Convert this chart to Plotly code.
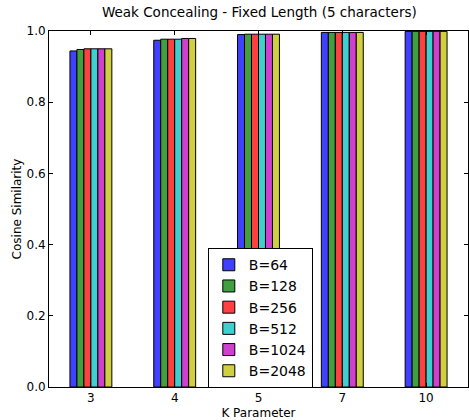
import plotly.graph_objects as go

k_labels = ["3", "4", "5", "7", "10"]
series_names = ["B=64", "B=128", "B=256", "B=512", "B=1024", "B=2048"]
values = {
    "B=64":   [0.944, 0.974, 0.990, 0.996, 0.999],
    "B=128":  [0.948, 0.977, 0.991, 0.996, 0.999],
    "B=256":  [0.950, 0.977, 0.991, 0.996, 0.999],
    "B=512":  [0.950, 0.977, 0.991, 0.996, 0.999],
    "B=1024": [0.950, 0.979, 0.991, 0.996, 0.999],
    "B=2048": [0.950, 0.979, 0.991, 0.996, 0.999],
}
colors = ["rgb(64,64,255)", "rgb(64,160,64)", "rgb(255,64,64)",
          "rgb(64,207,207)", "rgb(207,64,207)", "rgb(207,207,64)"]
y_ticks = [0.0, 0.2, 0.4, 0.6, 0.8, 1.0]

fig = go.Figure()
for name, c in zip(series_names, colors):
    fig.add_trace(go.Bar(x=k_labels, y=values[name], name=name,
                         marker=dict(color=c, line=dict(color="black", width=1))))

font = "DejaVu Sans"
fig.update_layout(
    width=469, height=420,
    margin=dict(l=49, r=1, t=31, b=33),
    paper_bgcolor="white", plot_bgcolor="white",
    barmode="group", bargap=0.5, bargroupgap=0,
    font=dict(family=font, size=12, color="black"),
    title=dict(text="Weak Concealing - Fixed Length (5 characters)",
               x=0.553, xanchor="center", y=0.982, yanchor="top",
               font=dict(size=13.5, family=font)),
    legend=dict(x=0.379, y=0.39, xanchor="left", yanchor="top",
                bordercolor="black", borderwidth=1, bgcolor="white",
                font=dict(size=14, family=font), tracegroupgap=0,
                itemwidth=30),
    showlegend=True,
)
fig.update_xaxes(type="category", range=[-0.5, 4.5], showline=True, linecolor="black",
                 linewidth=1, mirror="ticks", ticks="inside", ticklen=4,
                 tickcolor="black", showgrid=False,
                 title=dict(text="K Parameter", standoff=6, font=dict(size=12)))
fig.update_yaxes(range=[0, 1.0], tickvals=y_ticks, tickformat=".1f",
                 showline=True, linecolor="black", linewidth=1, mirror="ticks",
                 ticks="inside", ticklen=4, tickcolor="black", showgrid=False,
                 zeroline=False,
                 title=dict(text="Cosine Similarity", standoff=2, font=dict(size=12)))
fig.write_html("out.html")
